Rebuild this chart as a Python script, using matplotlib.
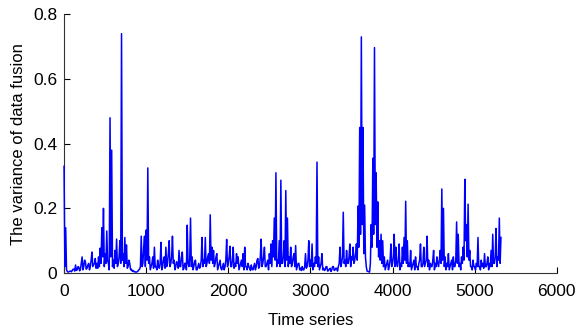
import numpy as np
import matplotlib.pyplot as plt

plt.rcParams['font.family'] = ['Liberation Sans', 'DejaVu Sans']

step = 10
variance = [
    0.33, 0.02, 0.14, 0.01, 0.005, 0.003, 0.004, 0.006, 0.006, 0.004, 0.008, 0.012, 0.012, 0.006, 0.025, 0.008, 0.010, 0.02, 0.018, 0.007,
    0.012, 0.03, 0.05, 0.01, 0.02, 0.04, 0.035, 0.012, 0.015, 0.025, 0.03, 0.01, 0.02, 0.04, 0.065, 0.02, 0.025, 0.03, 0.045, 0.015,
    0.03, 0.015, 0.05, 0.02, 0.077, 0.03, 0.14, 0.05, 0.20, 0.02, 0.06, 0.03, 0.13, 0.04, 0.03, 0.01, 0.48, 0.05, 0.38, 0.02,
    0.04, 0.015, 0.07, 0.03, 0.105, 0.02, 0.03, 0.05, 0.10, 0.03, 0.74, 0.04, 0.06, 0.02, 0.11, 0.03, 0.087, 0.015, 0.02, 0.04,
    0.03, 0.01, 0.012, 0.006, 0.008, 0.004, 0.005, 0.003, 0.003, 0.004, 0.006, 0.01, 0.012, 0.02, 0.114, 0.02, 0.03, 0.08, 0.114, 0.02,
    0.133, 0.04, 0.325, 0.03, 0.05, 0.01, 0.02, 0.03, 0.05, 0.015, 0.08, 0.02, 0.02, 0.01, 0.04, 0.02, 0.015, 0.03, 0.095, 0.01,
    0.02, 0.04, 0.05, 0.015, 0.08, 0.02, 0.03, 0.06, 0.10, 0.02, 0.03, 0.05, 0.114, 0.03, 0.04, 0.01, 0.02, 0.035, 0.03, 0.015,
    0.07, 0.02, 0.02, 0.05, 0.065, 0.01, 0.015, 0.03, 0.03, 0.01, 0.148, 0.03, 0.02, 0.04, 0.17, 0.02, 0.05, 0.01, 0.02, 0.035,
    0.04, 0.01, 0.01, 0.02, 0.03, 0.015, 0.02, 0.04, 0.11, 0.02, 0.04, 0.03, 0.11, 0.02, 0.03, 0.05, 0.06, 0.03, 0.18, 0.04,
    0.08, 0.03, 0.07, 0.02, 0.03, 0.05, 0.06, 0.01, 0.02, 0.03, 0.04, 0.015, 0.01, 0.02, 0.03, 0.01, 0.02, 0.04, 0.104, 0.02,
    0.03, 0.05, 0.083, 0.02, 0.02, 0.04, 0.08, 0.015, 0.03, 0.02, 0.06, 0.03, 0.05, 0.01, 0.02, 0.03, 0.04, 0.02, 0.06, 0.01,
    0.08, 0.02, 0.02, 0.01, 0.03, 0.02, 0.015, 0.008, 0.025, 0.012, 0.01, 0.02, 0.03, 0.01, 0.02, 0.04, 0.045, 0.015, 0.02, 0.05,
    0.105, 0.02, 0.03, 0.05, 0.08, 0.02, 0.02, 0.03, 0.04, 0.01, 0.06, 0.03, 0.09, 0.02, 0.10, 0.05, 0.17, 0.04, 0.31, 0.02,
    0.04, 0.03, 0.10, 0.02, 0.287, 0.03, 0.03, 0.05, 0.10, 0.02, 0.255, 0.04, 0.17, 0.02, 0.05, 0.03, 0.08, 0.02, 0.03, 0.05,
    0.06, 0.02, 0.085, 0.01, 0.02, 0.03, 0.03, 0.01, 0.015, 0.008, 0.02, 0.01, 0.01, 0.02, 0.06, 0.015, 0.02, 0.04, 0.10, 0.02,
    0.04, 0.02, 0.09, 0.01, 0.03, 0.02, 0.05, 0.03, 0.343, 0.02, 0.05, 0.01, 0.02, 0.03, 0.06, 0.01, 0.015, 0.008, 0.01, 0.02,
    0.02, 0.006, 0.008, 0.012, 0.015, 0.005, 0.01, 0.02, 0.02, 0.008, 0.01, 0.015, 0.015, 0.006, 0.02, 0.03, 0.08, 0.02, 0.03, 0.05,
    0.188, 0.03, 0.04, 0.02, 0.07, 0.03, 0.03, 0.05, 0.09, 0.02, 0.05, 0.04, 0.08, 0.03, 0.04, 0.06, 0.09, 0.04, 0.207, 0.08,
    0.45, 0.12, 0.73, 0.15, 0.45, 0.06, 0.21, 0.05, 0.02, 0.006, 0.005, 0.004, 0.003, 0.03, 0.15, 0.08, 0.355, 0.12, 0.697, 0.15,
    0.31, 0.08, 0.22, 0.05, 0.10, 0.04, 0.12, 0.03, 0.10, 0.02, 0.05, 0.01, 0.02, 0.03, 0.04, 0.01, 0.02, 0.04, 0.09, 0.02,
    0.03, 0.05, 0.12, 0.02, 0.08, 0.03, 0.02, 0.04, 0.09, 0.01, 0.03, 0.02, 0.08, 0.03, 0.11, 0.04, 0.222, 0.03, 0.10, 0.02,
    0.03, 0.02, 0.07, 0.01, 0.02, 0.03, 0.04, 0.01, 0.05, 0.02, 0.02, 0.01, 0.03, 0.04, 0.09, 0.02, 0.02, 0.03, 0.08, 0.02,
    0.03, 0.04, 0.114, 0.02, 0.04, 0.01, 0.03, 0.02, 0.02, 0.04, 0.07, 0.01, 0.03, 0.02, 0.05, 0.03, 0.02, 0.04, 0.07, 0.03,
    0.26, 0.04, 0.20, 0.02, 0.05, 0.01, 0.03, 0.02, 0.06, 0.01, 0.02, 0.03, 0.04, 0.01, 0.05, 0.02, 0.02, 0.04, 0.158, 0.03,
    0.12, 0.02, 0.03, 0.01, 0.05, 0.03, 0.08, 0.04, 0.29, 0.10, 0.15, 0.05, 0.213, 0.04, 0.07, 0.02, 0.02, 0.01, 0.04, 0.02,
    0.02, 0.01, 0.03, 0.02, 0.11, 0.02, 0.02, 0.01, 0.04, 0.02, 0.03, 0.015, 0.06, 0.02, 0.02, 0.03, 0.05, 0.01, 0.03, 0.02,
    0.07, 0.02, 0.12, 0.03, 0.03, 0.05, 0.138, 0.02, 0.05, 0.04, 0.17, 0.03, 0.11,
]
t = np.arange(len(variance)) * step

xticks = [0, 1000, 2000, 3000, 4000, 5000, 6000]
yticks = [0, 0.2, 0.4, 0.6, 0.8]
yticklabels = ['0', '0.2', '0.4', '0.6', '0.8']

fig = plt.figure(figsize=(5.77, 3.31), dpi=100)
ax = fig.add_axes([0.111, 0.175, 0.854, 0.782])
ax.plot(t, variance, color='#0000ff', lw=1.1, zorder=3, clip_on=False)

ax.set_xlim(0, 6000)
ax.set_ylim(0, 0.8)
ax.set_xticks(xticks)
ax.set_yticks(yticks)
ax.set_yticklabels(yticklabels)
ax.tick_params(direction='in', length=4, width=0.8, labelsize=12.5)
ax.tick_params(axis='x', pad=8)
ax.tick_params(axis='y', pad=5)
for s in ['top', 'right']:
    ax.spines[s].set_visible(False)
for s in ['left', 'bottom']:
    ax.spines[s].set_color('#333333')

ax.set_xlabel('Time series', fontsize=12, labelpad=10)
ax.set_ylabel('The variance of data fusion', fontsize=12, labelpad=5)

fig.savefig('out.png', dpi=100)
